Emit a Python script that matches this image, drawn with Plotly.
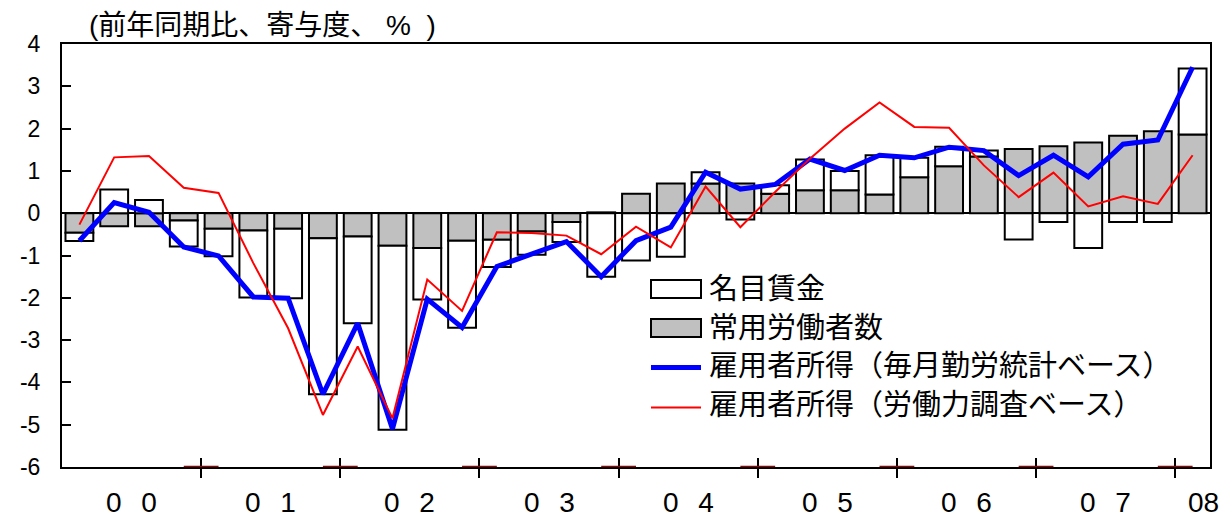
import plotly.graph_objects as go

# Quarterly series, 2000Q1 - 2008Q1 (year-on-year %, contributions)
quarters = [f"{y}Q{q}" for y in range(2000, 2008) for q in range(1, 5)] + ["2008Q1"]

# 常用労働者数 (contribution, grey bars)
employees = [-0.46, -0.31, -0.31, -0.17, -0.37, -0.41, -0.37, -0.59, -0.55, -0.77, -0.82,
             -0.65, -0.63, -0.43, -0.21, 0.02, 0.46, 0.70, 0.70, 0.70, 0.46, 0.54,
             0.54, 0.44, 0.85, 1.11, 1.34, 1.52, 1.58, 1.67, 1.83, 1.94, 1.86]

# 名目賃金 (contribution, white bars)
wages = [-0.20, 0.56, 0.31, -0.62, -0.65, -1.58, -1.64, -3.69, -2.05, -4.35, -1.22,
         -2.06, -0.64, -0.55, -0.47, -1.50, -1.12, -1.03, 0.27, -0.15, 0.20, 0.73,
         0.46, 0.93, 0.46, 0.46, 0.14, -0.62, -0.21, -0.82, -0.21, -0.21, 1.56]

# 雇用者所得（毎月勤労統計ベース）
income_monthly = [-0.65, 0.25, 0.02, -0.80, -1.01, -1.98, -2.01, -4.28, -2.60, -5.10, -2.03,
                  -2.70, -1.26, -0.98, -0.67, -1.50, -0.65, -0.33, 0.97, 0.57, 0.68, 1.28,
                  1.01, 1.37, 1.31, 1.56, 1.48, 0.89, 1.37, 0.86, 1.63, 1.73, 3.45]

# 雇用者所得（労働力調査ベース）
income_lfs = [-0.27, 1.32, 1.35, 0.60, 0.48, -1.18, -2.72, -4.77, -3.15, -4.85, -1.57,
              -2.31, -0.45, -0.47, -0.53, -0.97, -0.32, -0.81, 0.63, -0.33, 0.50, 1.29,
              2.00, 2.62, 2.04, 2.02, 1.13, 0.38, 0.96, 0.16, 0.40, 0.22, 1.37]

SP = "\u2002\u2009"
year_labels = [f"0{SP}0", f"0{SP}1", f"0{SP}2", f"0{SP}3", f"0{SP}4",
               f"0{SP}5", f"0{SP}6", f"0{SP}7", "08"]
y_ticks = [4, 3, 2, 1, 0, -1, -2, -3, -4, -5, -6]

legend_names = ["名目賃金", "常用労働者数",
                "雇用者所得（毎月勤労統計ベース）", "雇用者所得（労働力調査ベース）"]

x = list(range(len(quarters)))
n_years = 8
year_bounds = [4 * k + 3.5 for k in range(n_years)]
year_centers = [4 * k + 1.5 for k in range(n_years)] + [len(quarters) - 1 + 0.3]

LATIN = "Liberation Sans, Arial, sans-serif"
CJK = "Liberation Sans, Noto Sans CJK JP, sans-serif"

fig = go.Figure()

fig.add_trace(go.Bar(
    x=x, y=employees, name=legend_names[1], customdata=quarters,
    marker=dict(color="#C0C0C0", line=dict(color="black", width=2)),
    showlegend=False,
))
fig.add_trace(go.Bar(
    x=x, y=wages, name=legend_names[0], customdata=quarters,
    marker=dict(color="white", line=dict(color="black", width=2)),
    showlegend=False,
))
fig.add_trace(go.Scatter(
    x=x, y=income_monthly, mode="lines", name=legend_names[2],
    line=dict(color="#0000FF", width=5), showlegend=False,
))
# drawn on the overlay axis so it sits above the blue line
fig.add_trace(go.Scatter(
    x=x, y=income_lfs, mode="lines", name=legend_names[3], xaxis="x2",
    line=dict(color="#FF0000", width=2), showlegend=False,
))

xrange = [-0.5, len(quarters) - 0.5]

fig.update_layout(
    width=1230, height=519,
    margin=dict(l=62, r=20, t=44, b=52),
    paper_bgcolor="white", plot_bgcolor="white",
    barmode="relative", bargap=0.2,
    xaxis=dict(
        range=xrange, tickmode="array", tickvals=year_bounds,
        ticks="outside", ticklen=9, tickwidth=2, tickcolor="black",
        showticklabels=False, showline=True, linecolor="black", linewidth=2,
        mirror=True, showgrid=False, zeroline=False,
    ),
    xaxis2=dict(
        range=xrange, overlaying="x", anchor="y", side="bottom",
        tickmode="array", tickvals=year_bounds,
        ticks="inside", ticklen=9, tickwidth=2, tickcolor="black",
        showticklabels=False, showline=False, showgrid=False, zeroline=False,
    ),
    yaxis=dict(
        range=[-6, 4], tickmode="array", tickvals=y_ticks,
        ticktext=[str(v) for v in y_ticks],
        ticks="inside", ticklen=9, tickwidth=2, tickcolor="black",
        ticklabelstandoff=15,
        tickfont=dict(family=LATIN, size=23, color="black"),
        showline=True, linecolor="black", linewidth=2, mirror=True,
        showgrid=False, zeroline=True, zerolinecolor="black", zerolinewidth=2,
    ),
)

shapes = []
# short dark-red strokes on the baseline at each year boundary
for b in year_bounds:
    shapes.append(dict(type="line", xref="x", yref="y", x0=b - 0.5, x1=b + 0.5,
                       y0=-6, y1=-6, line=dict(color="#990000", width=2.5), layer="above"))

# legend keys
W, H = 1148.0, 423.0
def px(xp):
    return (xp - 62) / W
def py(yp):
    return (467 - yp) / H

shapes.append(dict(type="rect", xref="paper", yref="paper",
                   x0=px(651), x1=px(701), y0=py(298), y1=py(280),
                   fillcolor="white", line=dict(color="black", width=2)))
shapes.append(dict(type="rect", xref="paper", yref="paper",
                   x0=px(651), x1=px(701), y0=py(337), y1=py(319),
                   fillcolor="#C0C0C0", line=dict(color="black", width=2)))
shapes.append(dict(type="line", xref="paper", yref="paper",
                   x0=px(651), x1=px(701), y0=py(367.5), y1=py(367.5),
                   line=dict(color="#0000FF", width=5)))
shapes.append(dict(type="line", xref="paper", yref="paper",
                   x0=px(651), x1=px(701), y0=py(407.5), y1=py(407.5),
                   line=dict(color="#FF0000", width=2)))
fig.update_layout(shapes=shapes)

annotations = []
for name, yc in zip(legend_names, [289, 328, 366, 405]):
    annotations.append(dict(text=name, xref="paper", yref="paper", x=px(707), y=py(yc),
                            xanchor="left", yanchor="middle", showarrow=False,
                            font=dict(family=CJK, size=29, color="black")))

for lbl, xc in zip(year_labels, year_centers):
    annotations.append(dict(text=lbl, xref="x", yref="paper", x=xc, y=py(503),
                            xanchor="center", yanchor="middle", showarrow=False,
                            font=dict(family=LATIN, size=28, color="black")))

annotations.append(dict(text="(前年同期比、寄与度、 %  )", xref="paper", yref="paper",
                        x=px(87), y=py(25), xanchor="left", yanchor="middle",
                        showarrow=False, font=dict(family=CJK, size=28, color="black")))
fig.update_layout(annotations=annotations)

fig.write_html("out.html")
